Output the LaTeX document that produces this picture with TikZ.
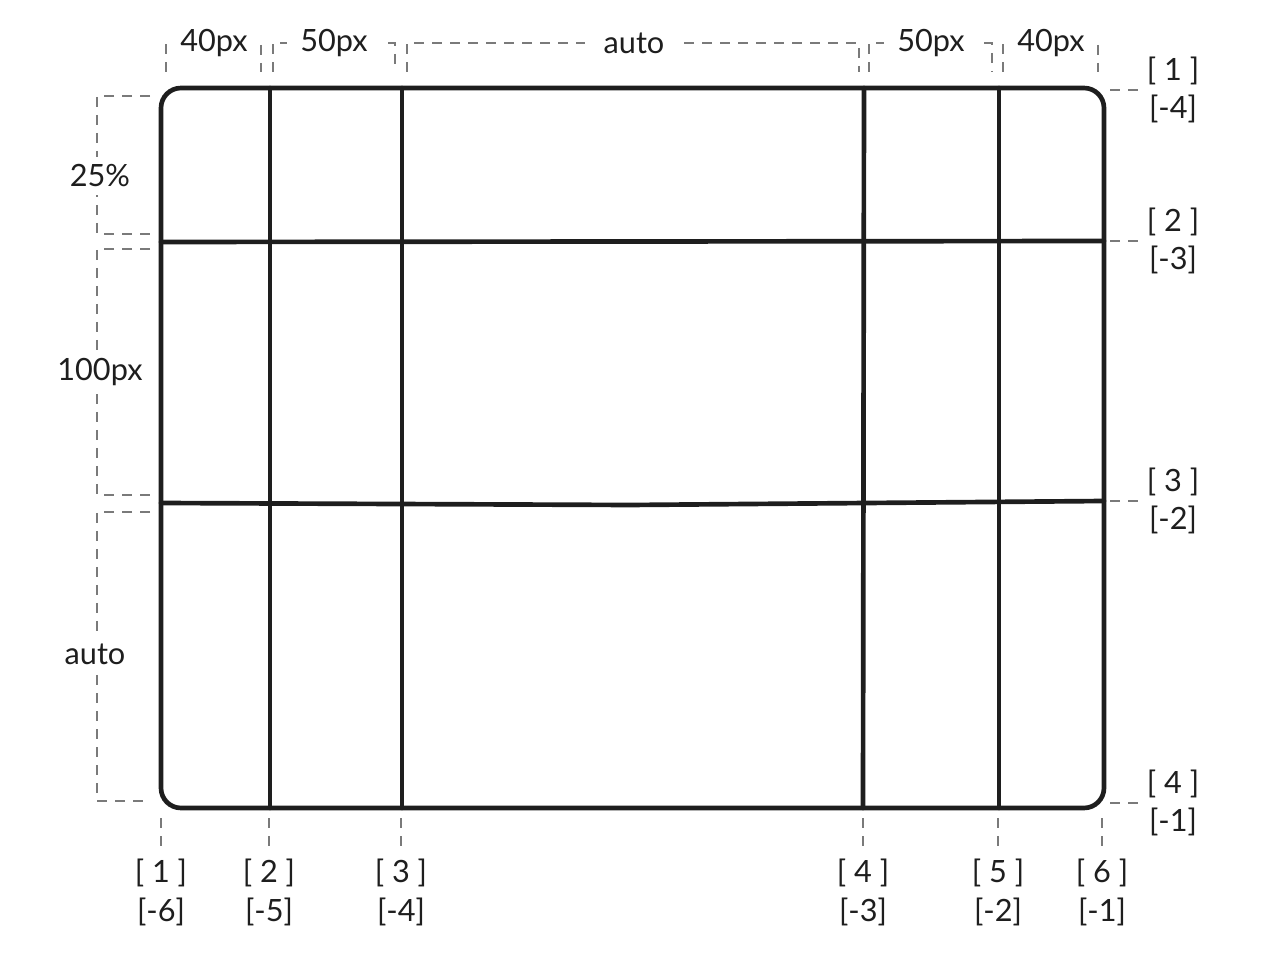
\documentclass[tikz,border=0pt]{standalone}
\usepackage{fontspec}
\setmainfont{Lato}
\usepackage{xcolor}
\usetikzlibrary{positioning}
\definecolor{ink}{HTML}{1E1E1E}
\definecolor{guidegray}{HTML}{7A7A7A}

\begin{document}
\begin{tikzpicture}[x=0.75pt, y=-0.75pt,
    gridline/.style={draw=ink, line width=3.5pt, line cap=round},
    guide/.style={draw=guidegray, line width=1.4pt, dash pattern=on 7.5pt off 6pt},
    lbl/.style={fill=white, inner sep=6pt, text=ink, font=\fontsize{23}{27}\selectfont},
    idx/.style={inner sep=0pt, text=ink, font=\fontsize{23}{27}\selectfont}]
    \useasboundingbox (0,0) rectangle (1283,962);

    % 外框与网格线
    \draw[gridline, rounded corners=15pt] (161,88) rectangle (1104,808);
    \draw[gridline] (270,88) -- (270,808);
    \draw[gridline] (402,88) -- (402,808);
    \draw[gridline] (864,88) -- (863,808);
    \draw[gridline] (999,88) -- (999,808);
    \draw[gridline] (161,242) -- (1104,241);
    \draw[gridline] (161,503) -- (630,505) -- (1104,501);

    % 列宽标注
    \draw[guide] (166,72) -- (166,43) -- (261,43) -- (261,72);
    \node[lbl] (w1) at (214,43) {40px};
    \draw[guide] (273,72) -- (273,43) -- (395,43) -- (395,72);
    \node[lbl, inner sep=10pt] (w2) at (334,43) {50px};
    \draw[guide] (407,72) -- (407,43) -- (859,43) -- (859,72);
    \node[lbl, inner sep=14pt] (w3) at (634,43) {auto};
    \draw[guide] (869,72) -- (869,43) -- (992,43) -- (992,72);
    \node[lbl, inner sep=10pt] (w4) at (931,43) {50px};
    \draw[guide] (1003,72) -- (1003,43) -- (1098,43) -- (1098,72);
    \node[lbl] (w5) at (1051,43) {40px};

    % 行高标注
    \draw[guide] (150,96) -- (97,96) -- (97,234) -- (150,234);
    \node[lbl] (h1) at (100,176) {25\%};
    \draw[guide] (150,249) -- (97,249) -- (97,495) -- (150,495);
    \node[lbl] (h2) at (100,372) {100px};
    \draw[guide] (150,512) -- (97,512) -- (97,801) -- (150,801);
    \node[lbl] (h3) at (95,654) {auto};

    % 行线编号
    \foreach \y/\a/\b [count=\i] in {90/1/-4, 241/2/-3, 501/3/-2, 803/4/-1} {
        \draw[guide] (1110,\y) -- (1144,\y);
        \node[idx] (r\i) at (1173,\y-19) {[ \a{} ]};
        \node[idx] (r\i n) at (1173,\y+19) {[\b]};
    }

    % 列线编号
    \foreach \x/\a/\b [count=\i] in {161/1/-6, 269/2/-5, 401/3/-4, 863/4/-3, 998/5/-2, 1102/6/-1} {
        \draw[guide] (\x,818) -- (\x,852);
        \node[idx] (c\i) at (\x,873) {[ \a{} ]};
        \node[idx] (c\i n) at (\x,912) {[\b]};
    }
\end{tikzpicture}
\end{document}
